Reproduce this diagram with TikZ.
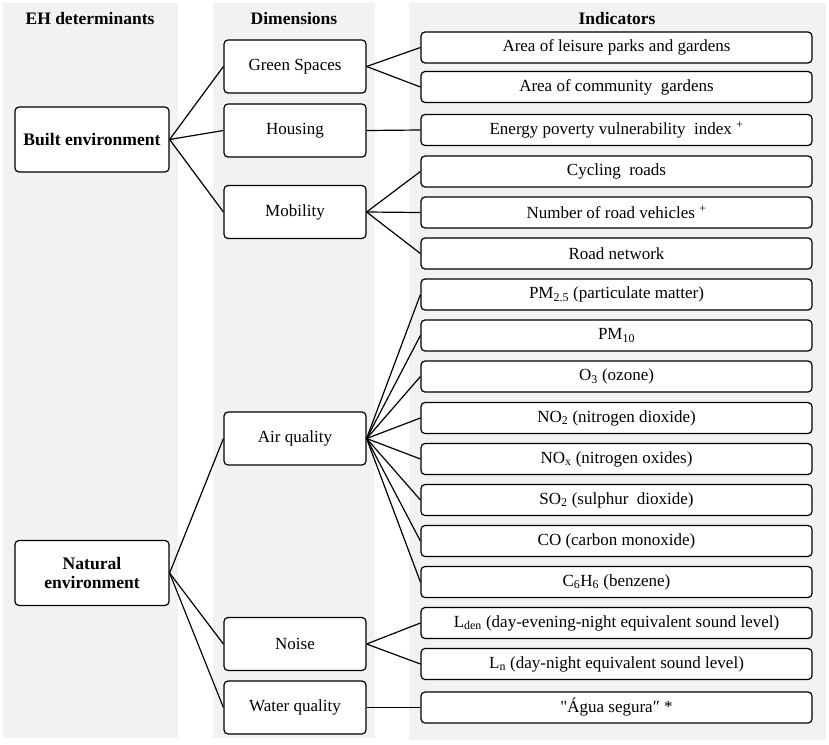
\documentclass[tikz,border=0pt]{standalone}
\usepackage{fontspec}
\setmainfont{Liberation Serif}
\definecolor{colbg}{HTML}{F2F2F2}
\tikzset{
  base/.style={draw=black, line width=1.2pt, rounded corners=4pt, fill=white, inner sep=0pt, align=center, font=\fontsize{17}{19}\selectfont},
  detbox/.style={base, minimum width=154pt, minimum height=65pt, font=\fontsize{17.6}{19.5}\selectfont\bfseries},
  dimbox/.style={base, minimum width=142pt, minimum height=53pt},
  indbox/.style={base, minimum width=391pt, minimum height=31pt},
  head/.style={font=\fontsize{17.5}{19}\selectfont\bfseries, inner sep=0pt},
  link/.style={line width=1.2pt},
  colbox/.style={fill=colbg, draw=none}
}
\newcommand{\wsp}{\hspace{0.5em}}
\begin{document}
\begin{tikzpicture}[x=1pt,y=-1pt]
\useasboundingbox (0,0) rectangle (829,744);
\fill[white] (0,0) rectangle (829,744);
\path[colbox] (3,3) rectangle (178,738);
\path[colbox] (213,3) rectangle (375,738);
\path[colbox] (409,3) rectangle (826,740);

\node[head] (h1) at (90,19) {EH determinants};
\node[head] (h2) at (294,19) {Dimensions};
\node[head] (h3) at (617,19) {Indicators};

\node[detbox] (built) at (92,139.5) {Built environment};
\node[detbox] (natural) at (92,573) {Natural\\environment};

\node[dimbox] (green) at (295,66.5) {Green Spaces};
\node[dimbox] (housing) at (295,130.5) {Housing};
\node[dimbox] (mobility) at (295,212) {Mobility};
\node[dimbox] (air) at (295,438.5) {Air quality};
\node[dimbox] (noise) at (295,644) {Noise};
\node[dimbox] (water) at (295,707.5) {Water quality};

\node[indbox] (i1) at (616.5,47.5) {Area of leisure parks and gardens};
\node[indbox] (i2) at (616.5,87) {Area of community\wsp gardens};
\node[indbox] (i3) at (616.5,130) {Energy poverty vulnerability\wsp index \textsuperscript{+}};
\node[indbox] (i4) at (616.5,171.5) {Cycling\wsp roads};
\node[indbox] (i5) at (616.5,212.5) {Number of road vehicles \textsuperscript{+}};
\node[indbox] (i6) at (616.5,253.5) {Road network};
\node[indbox] (i7) at (616.5,294.5) {PM\textsubscript{2.5} (particulate matter)};
\node[indbox] (i8) at (616.5,335.5) {PM\textsubscript{10}};
\node[indbox] (i9) at (616.5,376.5) {O\textsubscript{3} (ozone)};
\node[indbox] (i10) at (616.5,418) {NO\textsubscript{2} (nitrogen dioxide)};
\node[indbox] (i11) at (616.5,459) {NO\textsubscript{x} (nitrogen oxides)};
\node[indbox] (i12) at (616.5,500) {SO\textsubscript{2} (sulphur\wsp dioxide)};
\node[indbox] (i13) at (616.5,541) {CO (carbon monoxide)};
\node[indbox] (i14) at (616.5,582) {C\textsubscript{6}H\textsubscript{6} (benzene)};
\node[indbox] (i15) at (616.5,623) {L\textsubscript{den} (day-evening-night equivalent sound level)};
\node[indbox] (i16) at (616.5,664) {L\textsubscript{n} (day-night equivalent sound level)};
\node[indbox] (i17) at (616.5,707.5) {\textquotedbl Água segura″ *};

\foreach \d in {green,housing,mobility} \draw[link] (built.east) -- (\d.west);
\foreach \d in {air,noise,water} \draw[link] (natural.east) -- (\d.west);
\foreach \i in {i1,i2} \draw[link] (green.east) -- (\i.west);
\draw[link] (housing.east) -- (i3.west);
\foreach \i in {i4,i5,i6} \draw[link] (mobility.east) -- (\i.west);
\foreach \i in {i7,i8,i9,i10,i11,i12,i13,i14} \draw[link] (air.east) -- (\i.west);
\foreach \i in {i15,i16} \draw[link] (noise.east) -- (\i.west);
\draw[link] (water.east) -- (i17.west);
\end{tikzpicture}
\end{document}
